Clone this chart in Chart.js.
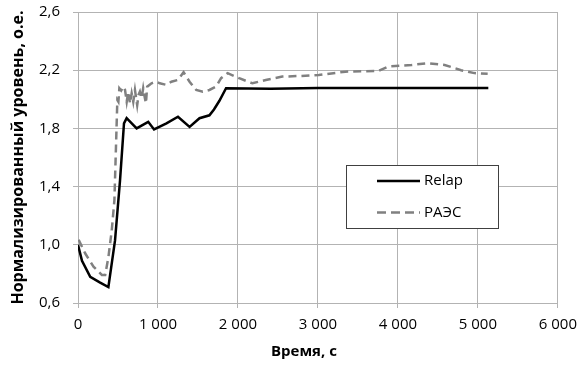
<!DOCTYPE html>
<html>
<head>
<meta charset="utf-8">
<script src="https://cdn.jsdelivr.net/npm/chart.js@4.4.1/dist/chart.umd.min.js"></script>
<style>
  html, body { margin: 0; padding: 0; background: #fff; }
  canvas { display: block; }
</style>
</head>
<body>
<canvas id="grafico" width="585" height="365"></canvas>
<script>
// Relap (solid black)
const relapTime = [0, 50, 153, 277, 380, 463, 525, 575, 608, 733, 878, 951, 1106, 1250, 1395, 1519, 1643, 1700, 1768, 1851, 2410, 3000, 4000, 5130];
const relapLevel = [1.0, 0.89, 0.78, 0.74, 0.71, 1.03, 1.44, 1.835, 1.87, 1.80, 1.845, 1.793, 1.835, 1.88, 1.81, 1.87, 1.89, 1.93, 1.99, 2.076, 2.072, 2.078, 2.078, 2.078];

// РАЭС (dashed gray)
const raesTime = [8, 91, 194, 298, 340, 380, 422, 455, 492, 505, 517, 540, 567, 588, 609, 629, 650, 671, 691, 712, 740, 757, 774, 795, 815, 832, 849, 865, 919, 981, 1022, 1106, 1168, 1250, 1320, 1395, 1478, 1560, 1643, 1727, 1789, 1871, 2015, 2181, 2348, 2554, 2761, 3010, 3342, 3755, 3880, 4170, 4377, 4584, 4790, 4956, 5122];
const raesLevel = [1.035, 0.94, 0.85, 0.793, 0.793, 0.914, 1.10, 1.305, 1.995, 1.983, 2.076, 2.06, 2.087, 2.064, 1.983, 2.052, 1.972, 2.041, 1.983, 2.064, 1.96, 2.03, 2.052, 2.007, 2.076, 2.02, 1.972, 2.087, 2.11, 2.121, 2.11, 2.099, 2.121, 2.133, 2.186, 2.121, 2.064, 2.052, 2.064, 2.087, 2.145, 2.18, 2.145, 2.11, 2.133, 2.156, 2.16, 2.167, 2.19, 2.195, 2.225, 2.236, 2.248, 2.236, 2.20, 2.18, 2.175];

const xTicks = [0, 1000, 2000, 3000, 4000, 5000, 6000];
const yTicks = [0.6, 1.0, 1.4, 1.8, 2.2, 2.6];

const seriesNames = ['Relap', 'РАЭС'];
const xTitulo = 'Время, с';
const yTitulo = 'Нормализированный уровень, о.е.';

function pontos(xs, ys) {
	return xs.map((x, i) => ({ x: x, y: ys[i] }));
}

const fonte = "'Open Sans', 'Liberation Sans', sans-serif";
const corGrade = '#b3b3b3';

// legend box inside the plot + x axis title
const legendaPlugin = {
	id: 'legendaInterna',
	afterDraw(chart) {
		const ctx = chart.ctx;
		const a = chart.chartArea;
		const bx = a.left + 268, by = a.top + 153, bw = 152, bh = 63;
		ctx.save();
		ctx.fillStyle = '#fff';
		ctx.fillRect(bx, by, bw, bh);
		ctx.strokeStyle = '#404040';
		ctx.lineWidth = 1;
		ctx.strokeRect(bx + 0.5, by + 0.5, bw, bh);

		const itens = [
			{ nome: seriesNames[0], cor: '#000', dash: [], y: by + 16 },
			{ nome: seriesNames[1], cor: '#808080', dash: [9, 5], y: by + 47.5 }
		];
		itens.forEach(it => {
			ctx.beginPath();
			ctx.setLineDash(it.dash);
			ctx.strokeStyle = it.cor;
			ctx.lineWidth = 2.5;
			ctx.moveTo(bx + 31, it.y);
			ctx.lineTo(bx + 74, it.y);
			ctx.stroke();
			ctx.setLineDash([]);
			ctx.fillStyle = '#000';
			ctx.font = '15px ' + fonte;
			ctx.textBaseline = 'middle';
			ctx.textAlign = 'left';
			ctx.fillText(it.nome, bx + 78, it.y);
		});

		// x title, slightly left of centre like the original
		ctx.font = 'bold 15px ' + fonte;
		ctx.textAlign = 'center';
		ctx.textBaseline = 'middle';
		ctx.fillText(xTitulo, (a.left + a.right) / 2 - 14, 352);
		ctx.restore();
	}
};

const ctx = document.getElementById('grafico').getContext('2d');
let myChart = new Chart(ctx, {
	type: 'line',
	data: {
		datasets: [{
			label: seriesNames[0],
			data: pontos(relapTime, relapLevel),
			borderColor: '#000',
			borderWidth: 2.5,
			pointRadius: 0,
			tension: 0,
			fill: false
		}, {
			label: seriesNames[1],
			data: pontos(raesTime, raesLevel),
			borderColor: '#808080',
			borderWidth: 2.5,
			borderDash: [8, 5],
			pointRadius: 0,
			tension: 0,
			fill: false
		}]
	},
	options: {
		responsive: false,
		animation: false,
		devicePixelRatio: 1,
		layout: { padding: { top: 12, right: 23, left: 0, bottom: 0 } },
		plugins: {
			legend: { display: false },
			tooltip: { enabled: false }
		},
		scales: {
			x: {
				type: 'linear',
				min: 0,
				max: 6000,
				afterFit: s => { s.height = 62; },
				afterBuildTicks: s => { s.ticks = xTicks.map(v => ({ value: v })); },
				ticks: {
					padding: 8,
					color: '#000',
					font: { family: fonte, size: 15 },
					maxRotation: 0,
					callback: v => String(v).replace(/\B(?=(\d{3})+(?!\d))/g, ' ')
				},
				grid: { color: corGrade, tickLength: 5 },
				border: { color: corGrade }
			},
			y: {
				type: 'linear',
				min: 0.6,
				max: 2.6,
				afterFit: s => { s.width = 78; s.paddingTop = 0; s.paddingBottom = 0; },
				afterBuildTicks: s => { s.ticks = yTicks.map(v => ({ value: v })); },
				ticks: {
					padding: 13,
					color: '#000',
					font: { family: fonte, size: 15 },
					callback: v => v.toFixed(1).replace('.', ',')
				},
				grid: { color: corGrade, tickLength: 5 },
				border: { color: corGrade },
				title: {
					display: true,
					text: yTitulo,
					color: '#000',
					font: { family: fonte, size: 16, weight: 'bold' },
					padding: { top: 9, bottom: 0 }
				}
			}
		}
	},
	plugins: [legendaPlugin]
});
</script>
</body>
</html>
